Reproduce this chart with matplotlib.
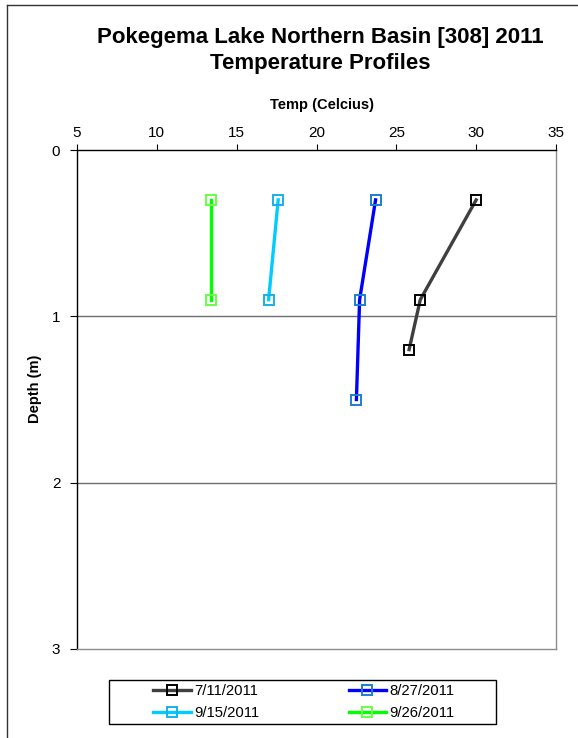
import matplotlib.pyplot as plt
from matplotlib.lines import Line2D
from matplotlib.patches import Rectangle

plt.rcParams['font.family'] = ['Liberation Sans', 'DejaVu Sans']

# profile data: temperature (C) vs depth (m)
dates = ["7/11/2011", "8/27/2011", "9/15/2011", "9/26/2011"]
depth_0711 = [0.3, 0.9, 1.2]
temp_0711 = [30.0, 26.5, 25.8]
depth_0827 = [0.3, 0.9, 1.5]
temp_0827 = [23.7, 22.7, 22.5]
depth_0915 = [0.3, 0.9]
temp_0915 = [17.6, 17.0]
depth_0926 = [0.3, 0.9]
temp_0926 = [13.4, 13.4]

line_colors = ["#3f3f3f", "#0000ff", "#00ccff", "#00ff00"]
marker_colors = ["#000000", "#1b7fcf", "#18b0e6", "#66ff44"]

fig = plt.figure(figsize=(5.78, 7.38), dpi=100)
ax = fig.add_axes([77/578, 1-649/738, (556-77)/578, (649-150)/738])

series = [(temp_0711, depth_0711), (temp_0827, depth_0827),
          (temp_0915, depth_0915), (temp_0926, depth_0926)]
handles = []
for (t, d), lab, lc, mc in zip(series, dates, line_colors, marker_colors):
    h, = ax.plot(t, d, color=lc, lw=2.4, marker='s', ms=6.5, mfc='none',
                 mec=mc, mew=1.4, label=lab, zorder=3)
    handles.append(h)

ax.set_xlim(5, 35)
ax.set_ylim(3, 0)
ax.set_xticks(range(5, 36, 5))
ax.set_yticks([0, 1, 2, 3])
ax.xaxis.tick_top()
ax.xaxis.set_label_position('top')
ax.tick_params(axis='x', direction='out', length=4, labelsize=11, pad=3, color='black')
ax.tick_params(axis='y', direction='out', length=5, labelsize=11, pad=7, color='black')
ax.set_xlabel("Temp (Celcius)", fontsize=10.5, fontweight='bold')
ax.set_ylabel("Depth (m)", fontsize=10.5, fontweight='bold')
ax.xaxis.set_label_coords(0.511, 1.083)
ax.yaxis.set_label_coords(-0.073, 0.521)

for yv in [1, 2]:
    ax.axhline(yv, color='#6e6e6e', lw=1, zorder=1)

ax.spines['top'].set_color('black')
ax.spines['left'].set_color('black')
ax.spines['right'].set_color('#8c8c8c')
ax.spines['bottom'].set_color('#8c8c8c')
for s in ax.spines.values():
    s.set_linewidth(1)

fig.text(320/578, 1-38/738, "Pokegema Lake Northern Basin [308] 2011",
         ha='center', va='center', fontsize=16, fontweight='bold')
fig.text(320/578, 1-63/738, "Temperature Profiles",
         ha='center', va='center', fontsize=16, fontweight='bold')

# legend box drawn separately so the entries sit inside with wide margins
fig.add_artist(Rectangle((109/578, 1-724/738), 387/578, 44/738,
                         transform=fig.transFigure, fill=False,
                         edgecolor='black', lw=1))
order = [0, 2, 1, 3]
leg = fig.legend([handles[i] for i in order], [dates[i] for i in order],
                 ncol=2, loc='center',
                 bbox_to_anchor=(304/578, 1-702/738),
                 fontsize=10.7, frameon=False,
                 handlelength=2.5, handletextpad=0.25, labelspacing=0.5,
                 borderpad=0.2, columnspacing=6)

# outer chart border (left and top)
fig.add_artist(Line2D([7/578, 7/578], [0, 1-5/738], transform=fig.transFigure,
                      color='#333333', lw=1))
fig.add_artist(Line2D([7/578, 1], [1-5/738, 1-5/738], transform=fig.transFigure,
                      color='#333333', lw=1))

fig.savefig("out.png", dpi=100)
